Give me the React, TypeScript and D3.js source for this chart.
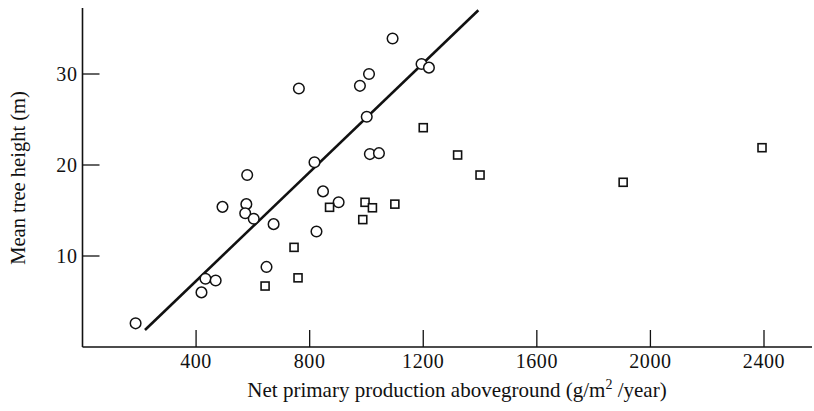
import React from "react";
import * as d3 from "d3";

const circleX = [187, 419, 433, 469, 493, 580, 577, 573, 603, 673, 648, 817, 824, 762, 1092, 1009, 977, 1194, 1220, 1001, 1012, 1044, 847, 902];
const circleY = [2.6, 6.0, 7.5, 7.3, 15.4, 18.9, 15.7, 14.7, 14.1, 13.5, 8.8, 20.3, 12.7, 28.4, 33.9, 30.0, 28.7, 31.1, 30.7, 25.3, 21.2, 21.3, 17.1, 15.9];
const squareX = [643, 745, 759, 870, 987, 995, 1021, 1100, 1200, 1321, 1400, 1904, 2393];
const squareY = [6.7, 10.95, 7.6, 15.35, 14.0, 15.9, 15.3, 15.7, 24.1, 21.1, 18.9, 18.1, 21.9];
const lineX = [220, 1394];
const lineY = [1.87, 37.0];
const xTicks = [400, 800, 1200, 1600, 2000, 2400];
const yTicks = [10, 20, 30];

const W = 814;
const H = 411;

export default function App() {
  const x = d3.scaleLinear().domain([0, 2400]).range([82.5, 764]);
  const y = d3.scaleLinear().domain([0, 30]).range([347, 74]);
  const font = "'Liberation Serif', 'Times New Roman', serif";
  const line = d3.line<number>().x((d) => x(lineX[d])).y((d) => y(lineY[d]));
  return (
    <div style={{ position: "absolute", left: 0, top: 0 }}>
      <svg width={W} height={H} style={{ display: "block", background: "#fff" }}>
        <rect width={W} height={H} fill="#fff" />
        {/* axes */}
        <line x1={x(0)} x2={x(0)} y1={8} y2={y(0)} stroke="#111" strokeWidth={1.6} />
        <line x1={x(0)} x2={812} y1={y(0)} y2={y(0)} stroke="#111" strokeWidth={1.6} />
        {xTicks.map((t) => (
          <g key={"xt" + t}>
            <line x1={x(t)} x2={x(t)} y1={y(0)} y2={y(0) - 17} stroke="#111" strokeWidth={1.3} />
            <text x={x(t)} y={368} textAnchor="middle" fontFamily={font} fontSize={20} letterSpacing={0.6} fill="#111">
              {t}
            </text>
          </g>
        ))}
        {yTicks.map((t) => (
          <g key={"yt" + t}>
            <line x1={x(0)} x2={x(0) + 17} y1={y(t)} y2={y(t)} stroke="#111" strokeWidth={1.3} />
            <text x={x(0) - 5} y={y(t)} dy="0.34em" textAnchor="end" fontFamily={font} fontSize={20} letterSpacing={0.6} fill="#111">
              {t}
            </text>
          </g>
        ))}
        <text x={457} y={397} textAnchor="middle" fontFamily={font} fontSize={21} fill="#111">
          Net primary production aboveground (g/m
          <tspan dy={-8} fontSize={14}>2</tspan>
          <tspan dy={8}> /year)</tspan>
        </text>
        <text
          transform={`translate(25, 178) rotate(-90)`}
          textAnchor="middle"
          fontFamily={font}
          fontSize={20.5}
          fill="#111"
        >
          Mean tree height (m)
        </text>
        {/* regression line */}
        <path d={line([0, 1]) || ""} fill="none" stroke="#111" strokeWidth={2.6} />
        {/* circles */}
        {circleX.map((v, i) => (
          <circle key={"c" + i} cx={x(v)} cy={y(circleY[i])} r={5.3} fill="#fff" stroke="#111" strokeWidth={1.5} />
        ))}
        {/* squares */}
        {squareX.map((v, i) => (
          <rect key={"s" + i} x={x(v) - 4} y={y(squareY[i]) - 4} width={8} height={8} fill="#fff" stroke="#111" strokeWidth={1.6} />
        ))}
      </svg>
    </div>
  );
}
